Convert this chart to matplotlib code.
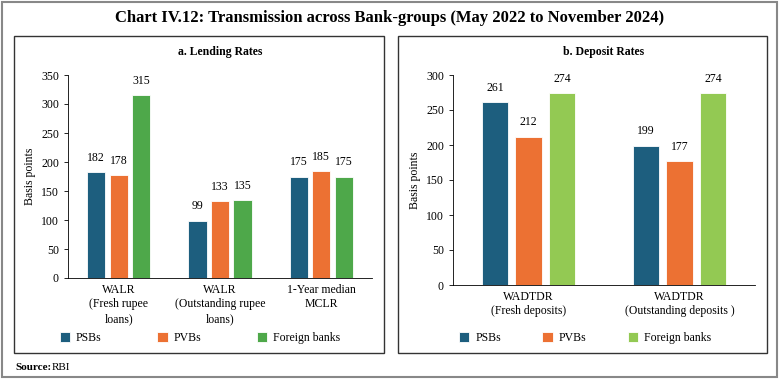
import matplotlib.pyplot as plt
import matplotlib.patches as mpatches
import numpy as np

plt.rcParams['font.family'] = ['Liberation Serif', 'DejaVu Serif']

# data
groups = ['PSBs', 'PVBs', 'Foreign banks']
lend_cats = ['WALR\n(Fresh rupee\nloans)', 'WALR\n(Outstanding rupee\nloans)', '1-Year median\nMCLR']
lend_psb = [182, 99, 175]
lend_pvb = [178, 133, 185]
lend_for = [315, 135, 175]
dep_cats = ['WADTDR\n(Fresh deposits)', 'WADTDR\n(Outstanding deposits )']
dep_psb = [261, 199]
dep_pvb = [212, 177]
dep_for = [274, 274]

c_psb = '#1d5e7e'
c_pvb = '#ec7133'
c_for_l = '#4ea84a'
c_for_r = '#93c953'

fig = plt.figure(figsize=(7.8, 3.8), dpi=100)
W, H = 780., 380.

def box(x0, y0, x1, y1, lw=1.0, col='#333333'):
    r = mpatches.Rectangle((x0/W, 1-y1/H), (x1-x0)/W, (y1-y0)/H, transform=fig.transFigure,
                           fill=False, lw=lw, ec=col)
    fig.add_artist(r)

box(2, 2, 777, 377, lw=1.5, col='#888888')
box(14, 36, 384, 353)
box(398, 36, 767, 353)

fig.text(0.5, 1-18/H, 'Chart IV.12: Transmission across Bank-groups (May 2022 to November 2024)',
         ha='center', va='center', fontsize=12, fontweight='bold')
fig.text(15/W, 1-367/H, 'Source:', ha='left', va='center', fontsize=8, fontweight='bold')
fig.text(52/W, 1-367/H, 'RBI', ha='left', va='center', fontsize=8)

def panel(rect, cats, vals, cols, ymax, title, bw, title_y, leg_x, colsp):
    ax = fig.add_axes(rect)
    x = np.arange(len(cats))
    for k, (v, c) in enumerate(zip(vals, cols)):
        bars = ax.bar(x + (k-1)*0.222, v, width=bw, color=c, edgecolor='white', linewidth=0.6, label=groups[k])
        for b, val in zip(bars, v):
            ax.text(b.get_x()+b.get_width()/2, val + ymax*0.04, str(val), ha='center', va='bottom', fontsize=8.5)
    ax.set_xlim(-0.5, len(cats)-0.5)
    ax.set_ylim(0, ymax)
    ax.set_yticks(np.arange(0, ymax+1, 50))
    ax.set_xticks(x)
    ax.set_xticklabels(cats, fontsize=8.5, linespacing=1.3)
    ax.tick_params(axis='x', length=0, pad=4)
    ax.tick_params(axis='y', labelsize=8.5, length=3, width=0.6)
    for s in ['top', 'right']:
        ax.spines[s].set_visible(False)
    ax.spines['left'].set_linewidth(0.6)
    ax.spines['bottom'].set_linewidth(0.6)
    ax.set_ylabel('Basis points', fontsize=8.5)
    fig.text((rect[0]+rect[2]/2), 1-title_y/H, title, ha='center', va='center', fontsize=8.5, fontweight='bold')
    ax.legend(loc='center', bbox_to_anchor=leg_x, bbox_transform=fig.transFigure, ncol=3, frameon=False,
              fontsize=8.5, handlelength=0.9, handleheight=0.9, columnspacing=colsp, handletextpad=0.5)
    return ax

panel([68/W, 1-278/H, 304/W, 203/H], lend_cats, [lend_psb, lend_pvb, lend_for],
      [c_psb, c_pvb, c_for_l], 350, 'a. Lending Rates', 0.18, 52, (200/W, 1-338/H), 4.7)
panel([453/W, 1-285/H, 302/W, 210/H], dep_cats, [dep_psb, dep_pvb, dep_for],
      [c_psb, c_pvb, c_for_r], 300, 'b. Deposit Rates', 0.175, 52, (585/W, 1-338/H), 3.5)

fig.savefig('out.png', dpi=100)
